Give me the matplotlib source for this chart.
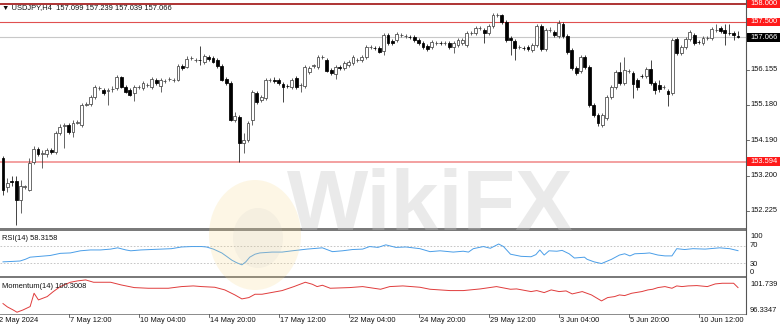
import matplotlib
matplotlib.use('Agg')
import matplotlib.pyplot as plt
from matplotlib.patches import Rectangle, Ellipse
from matplotlib.lines import Line2D

# ---------------- data ----------------
symbol_title = "USDJPY,H4  157.099 157.239 157.039 157.066"

opens = [153.70,152.89,153.05,153.05,152.52,152.89,152.80,153.58,153.95,153.81,
153.81,153.92,153.86,154.39,154.59,154.62,154.42,154.67,154.62,155.18,
155.20,155.40,155.65,155.60,155.57,155.62,155.65,155.96,155.68,155.60,
155.51,155.68,155.65,155.73,155.68,155.87,155.71,155.85,155.90,155.87,
155.87,156.27,156.24,156.49,156.43,156.43,156.38,156.52,156.49,156.43,
156.27,155.90,155.79,154.76,154.84,154.11,154.20,154.76,155.51,155.32,
155.37,155.87,155.87,155.87,155.76,155.71,155.68,155.93,155.73,155.71,
156.10,156.27,156.24,156.52,156.43,156.15,156.04,156.24,156.21,156.29,
156.35,156.43,156.43,156.52,156.80,156.77,156.77,156.69,157.13,156.96,
156.99,157.13,157.10,157.08,157.08,156.99,156.91,156.82,156.80,156.91,
156.91,156.91,156.91,156.80,156.85,156.91,156.85,157.19,157.19,157.33,
157.27,157.19,157.38,157.69,157.69,157.50,157.05,156.96,156.80,156.77,
156.80,156.71,156.85,157.38,156.74,157.27,157.22,157.10,157.44,157.10,
156.71,156.21,156.13,156.52,156.24,155.18,154.90,154.62,154.81,155.40,
155.68,156.10,155.79,156.13,156.07,155.87,155.99,155.99,156.18,155.79,
155.73,155.68,155.57,155.51,157.02,156.63,156.80,157.02,157.13,156.94,
156.91,157.05,157.05,157.27,157.33,157.27,157.19,157.19,157.099]

highs = [153.75,153.14,153.19,153.19,153.08,152.94,153.70,154.03,154.00,153.92,
153.98,153.98,154.45,154.65,154.67,154.67,154.76,154.76,155.23,155.26,
155.45,155.73,155.71,155.65,155.65,155.71,156.01,155.99,155.73,155.65,
155.73,155.73,155.85,155.79,155.96,155.93,155.93,155.90,155.96,155.93,
156.32,156.32,156.55,156.55,156.49,156.82,156.60,156.57,156.55,156.49,
156.32,155.96,155.85,154.98,154.90,154.39,154.73,155.60,155.57,155.45,
155.93,155.93,155.96,155.93,155.82,155.76,155.93,155.99,155.79,156.29,
156.27,156.32,156.57,156.57,156.49,156.21,156.29,156.29,156.41,156.43,
156.57,156.49,156.57,156.85,156.85,156.82,156.82,157.19,157.19,157.02,
157.22,157.19,157.16,157.13,157.13,157.05,156.96,156.88,156.99,156.96,
156.96,156.96,156.96,156.96,157.05,157.05,157.24,157.24,157.38,157.38,
157.33,157.44,157.75,157.75,157.72,157.55,157.10,157.02,156.85,156.82,
156.85,156.91,157.44,157.44,157.33,157.35,157.27,157.55,157.50,157.16,
156.77,156.27,156.57,156.57,156.29,155.23,154.95,154.95,155.45,155.73,
156.15,156.38,156.52,156.18,156.13,155.93,156.04,156.24,156.43,155.85,
155.87,155.73,155.62,157.05,157.08,156.85,157.08,157.27,157.19,156.99,
157.10,157.10,157.35,157.44,157.38,157.44,157.44,157.24,157.239]

lows = [152.66,152.75,152.91,151.82,152.16,152.83,152.77,153.53,153.75,153.42,
153.72,153.81,153.81,154.34,153.98,154.37,154.28,154.65,154.56,155.15,
155.15,155.34,155.60,155.45,155.18,155.54,155.60,155.65,155.51,155.43,
155.29,155.62,155.60,155.68,155.62,155.73,155.54,155.79,155.85,155.82,
155.85,156.15,156.21,156.43,156.38,156.29,156.32,156.41,156.35,156.21,
155.85,155.73,154.73,154.70,153.58,153.84,154.14,154.62,155.20,155.26,
155.32,155.82,155.79,155.73,155.26,155.65,155.62,155.62,155.54,155.65,
156.04,156.21,156.18,156.46,156.10,156.01,155.90,156.15,156.15,156.24,
156.29,156.38,156.38,156.46,156.74,156.71,156.63,156.57,156.85,156.85,
156.94,157.08,157.05,157.02,156.94,156.85,156.74,156.69,156.74,156.85,
156.85,156.85,156.74,156.63,156.80,156.85,156.80,157.13,157.13,157.27,
156.91,157.13,157.33,157.63,157.44,156.94,156.57,156.43,156.74,156.71,
156.69,156.66,156.80,156.69,156.69,157.22,157.08,157.05,157.05,156.60,
156.15,156.01,156.07,156.18,155.12,154.84,154.59,154.56,154.76,155.34,
155.62,155.73,155.73,156.07,155.37,155.60,155.93,155.93,155.73,155.48,
155.54,155.62,155.15,155.45,156.57,156.57,156.74,156.96,156.85,156.88,
156.85,156.99,156.99,157.22,157.19,156.85,157.13,156.99,157.039]

closes = [152.80,153.00,153.02,152.52,152.91,152.91,153.56,153.95,153.81,153.84,
153.92,153.86,154.39,154.56,154.62,154.42,154.67,154.70,155.18,155.20,
155.40,155.68,155.66,155.51,155.60,155.63,155.96,155.68,155.54,155.45,
155.68,155.69,155.79,155.74,155.90,155.79,155.87,155.86,155.91,155.88,
156.27,156.21,156.46,156.50,156.44,156.42,156.55,156.46,156.38,156.27,
155.87,155.79,154.76,154.87,154.11,154.20,154.67,155.54,155.26,155.40,
155.87,155.88,155.86,155.79,155.68,155.70,155.87,155.68,155.74,156.24,
156.21,156.28,156.52,156.53,156.13,156.07,156.24,156.21,156.35,156.38,
156.52,156.44,156.52,156.80,156.81,156.76,156.66,157.13,156.91,156.91,
157.16,157.14,157.11,157.07,156.99,156.91,156.80,156.74,156.94,156.92,
156.90,156.92,156.80,156.91,156.99,156.99,157.19,157.20,157.33,157.34,
157.19,157.38,157.69,157.70,157.50,156.99,156.99,156.77,156.81,156.76,
156.74,156.85,157.38,156.74,157.27,157.28,157.13,157.47,157.10,156.66,
156.21,156.07,156.52,156.24,155.18,154.90,154.67,154.90,155.40,155.68,
156.10,155.79,156.15,156.14,155.76,155.68,155.98,156.18,155.79,155.60,
155.62,155.69,155.48,156.99,156.63,156.80,157.02,157.22,156.91,156.93,
157.05,157.06,157.30,157.28,157.24,157.19,157.18,157.13,157.066]

# price levels (horizontal lines)
level_158 = 158.000
level_1575 = 157.500
level_bid = 157.066
level_low = 153.594
price_ticks = [156.155, 155.180, 154.190, 153.200, 152.225]

# RSI(14) readings (bar index, value)
rsi_idx = [0,2.1,3.9,5.1,6.2,8.5,10.8,13.1,15.4,17.7,20,22.3,24.6,26.2,28.1,29.2,31.5,33.8,36.2,38.5,
           40.8,43.1,45.4,46.5,48.1,50,51.1,52.3,53.4,54.6,55.5,56.4,57.6,58.7,61.5,63.8,66.1,69.5,73,75.3,
           77.6,79.9,82.2,83.8,85.7,87.5,89.8,92.1,95.3,97.6,99.9,102.9,105.2,106.4,107.5,109.8,111.4,113.3,114.4,116,
           118.4,120.7,121.8,122.7,123.7,124.8,126.6,127.8,129.4,130.6,132.9,133.5,135.1,136.8,139.1,140.9,142.1,143.3,144.4,146.7,
           147.8,149.7,151.3,152.9,154,155.8,157.7,160.5,163.8,166.1,168]
rsi_val = [32,33,34,38,43,45,47,52,53,58,60,60,62,65,60,58,60,61,62,63,
           67,68,68,67,62,53,45,36,30,25,32,43,50,53,55,55,58,62,65,56,
           58,61,62,68,66,72,66,67,63,56,58,55,57,55,63,68,64,74,68,50,
           45,44,49,60,48,58,57,59,51,41,43,38,32,28,38,48,51,46,51,52,
           53,48,46,46,63,61,63,62,65,63,58.3158]
rsi_label = "RSI(14) 58.3158"

# Momentum(14) readings (bar index, value)
mom_idx = [0,1,2.3,3.2,4.6,6.2,7.1,8.1,10.1,11.5,13.1,15.4,17,18.9,20.7,24.6,27,30,33.2,37.8,
           40.8,43.5,45.4,48.4,50.7,53,54.6,56.2,57.6,59.2,63.8,66.5,69.1,70.7,71.8,73,74.8,79.2,82.2,86.3,
           88.4,91.4,95.3,97.6,102.2,105.2,109.1,112.8,116,117.4,120.7,122,123.7,125.3,127.1,128.7,130.1,132.4,134.5,136.8,
           138.2,139.8,140.9,142.1,143.7,146,147.4,148.5,149.7,151.3,152.9,154,155.2,156.6,158.6,161,162.8,164.4,167,168]
mom_val = [97.9,97.4,96.95,96.6,96.95,97.45,99.45,98.45,98.95,99.7,100.45,101.1,101.3,101.45,101.1,101.1,100.7,100.3,100.2,100.2,
           100.45,100.55,100.45,100.35,99.95,99.2,98.6,98.8,99.3,99.3,99.85,100.45,101.1,100.8,100.45,100.65,100.2,100.3,100.45,100.05,
           100.45,100.55,100.35,100.05,99.85,99.85,100.1,100.45,100.05,100.1,99.7,99.85,99.55,99.95,99.7,99.8,99.35,99.7,99.2,98.3,
           98.8,98.95,99.2,99.1,99.45,99.7,99.95,100.05,100.3,100.45,100.2,100.55,100.45,100.55,100.6,100.45,100.85,100.95,100.95,100.3008]
mom_label = "Momentum(14) 100.3008"
mom_max, mom_min = 101.739, 96.3347

tick_idx = [15, 31, 47, 63, 79, 95, 111, 127, 143, 159]
tick_labels = ["7 May 12:00", "10 May 04:00", "14 May 20:00", "17 May 12:00", "22 May 04:00",
               "24 May 20:00", "29 May 12:00", "3 Jun 04:00", "5 Jun 20:00", "10 Jun 12:00"]
first_label = "2 May 2024"

# ---------------- layout ----------------
W, H = 780, 328
FONT = ['Liberation Sans', 'DejaVu Sans']
FS = 5.4
plt.rcParams['font.family'] = FONT

fig = plt.figure(figsize=(W / 100, H / 100), dpi=100)
fig.patch.set_facecolor('white')

def rect(x0, y0, x1, y1):
    return [x0 / W, 1 - y1 / H, (x1 - x0) / W, (y1 - y0) / H]

def fx(x):
    return x / W

def fy(y):
    return 1 - y / H

AXR = 746          # right edge of plotting area (px)
X0, DX = 3.0, 4.375  # first bar position and bar spacing (px)
xlim = (-X0 / DX, (AXR - X0) / DX)

def idx_px(i):
    return X0 + i * DX

def clean(ax):
    ax.set_xlim(*xlim)
    for s in ax.spines.values():
        s.set_visible(False)
    ax.set_xticks([])
    ax.set_yticks([])
    ax.set_facecolor('none')

# main price panel
ax = fig.add_axes(rect(0, 0, AXR, 228))
clean(ax)
ax.set_ylim(158.11 - 228 * 0.02794, 158.11)

n = len(closes)
idx = list(range(n))
bw = 0.68
for i in idx:
    o, h, l, c = opens[i], highs[i], lows[i], closes[i]
    bull = c >= o
    ax.vlines(i, l, h, color='#3a3a3a' if bull else '#111111', lw=0.55, zorder=2)
    bottom = min(o, c)
    height = max(abs(c - o), 0.004)
    if bull:
        ax.bar(i, height, bottom=bottom, width=bw, facecolor='white', edgecolor='#444444', lw=0.55, zorder=3)
    else:
        ax.bar(i, height, bottom=bottom, width=bw, facecolor='black', edgecolor='black', lw=0.55, zorder=3)

ax.axhline(level_158, color='#a01010', lw=1.2, zorder=1)
ax.axhline(level_1575, color='#e05050', lw=0.8, zorder=1)
ax.axhline(level_bid, color='#c8c8c8', lw=0.8, zorder=1)
ax.axhline(level_low, color='#f3a0a0', lw=1.4, zorder=1)

# price labels on right
def yprice(p):
    return (158.11 - p) / 0.02794

for p in price_ticks:
    y = yprice(p)
    fig.add_artist(Line2D([fx(AXR), fx(AXR + 3)], [fy(y), fy(y)], color='#555555', lw=0.6))
    fig.text(fx(AXR + 4), fy(y), f"{p:.3f}", fontsize=FS, va='center', ha='left', color='#111111')

def boxed(p, text, bg):
    y = yprice(p)
    fig.add_artist(Rectangle((fx(AXR + 1), fy(y + 4.2)), fx(W - AXR), 8.4 / H, facecolor=bg,
                             edgecolor='none', zorder=5))
    fig.text(fx(AXR + 4), fy(y), text, fontsize=FS, va='center', ha='left', color='white', zorder=6)

boxed(level_158, "158.000", '#ff1a1a')
boxed(level_1575, "157.500", '#ff1a1a')
boxed(level_bid, "157.066", '#000000')
boxed(level_low, "153.594", '#ff1a1a')

fig.text(fx(2), fy(7.5), "\u25BC " + symbol_title, fontsize=FS, va='center', ha='left', color='#111111')

# RSI panel
ax2 = fig.add_axes(rect(0, 231, AXR, 276))
clean(ax2)
ax2.set_ylim(-1.3, 104.6)
ax2.axhline(70, color='#bdbdbd', lw=0.6, ls=(0, (2, 2)))
ax2.axhline(30, color='#bdbdbd', lw=0.6, ls=(0, (2, 2)))
ax2.plot(rsi_idx, rsi_val, color='#4a9ee8', lw=0.7)
fig.text(fx(2), fy(238), rsi_label, fontsize=FS, va='center', ha='left', color='#111111')
for lab, y in [("100", 237), ("70", 245.5), ("30", 264), ("0", 272)]:
    fig.text(fx(AXR + 4), fy(y), lab, fontsize=FS, va='center', ha='left', color='#111111')

# Momentum panel
ax3 = fig.add_axes(rect(0, 278, AXR, 314))
clean(ax3)
ax3.set_ylim(mom_min, mom_max)
ax3.plot(mom_idx, mom_val, color='#e03c3c', lw=0.7)
fig.text(fx(2), fy(286), mom_label, fontsize=FS, va='center', ha='left', color='#111111')
fig.text(fx(AXR + 4), fy(284.5), f"{mom_max:.3f}", fontsize=FS, va='center', ha='left', color='#111111')
fig.text(fx(AXR + 4), fy(310), f"{mom_min:.4f}", fontsize=FS, va='center', ha='left', color='#111111')

# separators and frame
for (y0, y1) in [(228, 230.8), (276, 278)]:
    fig.add_artist(Rectangle((0, fy(y1)), fx(AXR), (y1 - y0) / H, facecolor='#7a7a7a', edgecolor='none'))
fig.add_artist(Line2D([0, fx(AXR)], [fy(314), fy(314)], color='#8a8a8a', lw=0.7))
fig.add_artist(Line2D([fx(AXR), fx(AXR)], [fy(0), fy(314)], color='#555555', lw=0.8))

# time axis
fig.text(fx(-1), fy(321), first_label, fontsize=FS, va='center', ha='left', color='#111111')
for i, lab in zip(tick_idx, tick_labels):
    x = idx_px(i)
    fig.add_artist(Line2D([fx(x), fx(x)], [fy(314), fy(317)], color='#555555', lw=0.6))
    fig.text(fx(x + 1.5), fy(321), lab, fontsize=FS, va='center', ha='left', color='#111111')

# watermark
fig.add_artist(Ellipse((fx(255), fy(235)), 92 / W, 110 / H, facecolor='#f6d98a', edgecolor='none', alpha=0.22, zorder=8))
fig.add_artist(Ellipse((fx(258), fy(238)), 50 / W, 60 / H, facecolor='#bdbdbd', edgecolor='none', alpha=0.12, zorder=8))
fig.text(fx(430), fy(208), "WikiFX", fontsize=62, fontweight='bold', color='#c4c4c4', alpha=0.35,
         ha='center', va='center', zorder=8)

fig.savefig('out.png', dpi=100, facecolor='white')
